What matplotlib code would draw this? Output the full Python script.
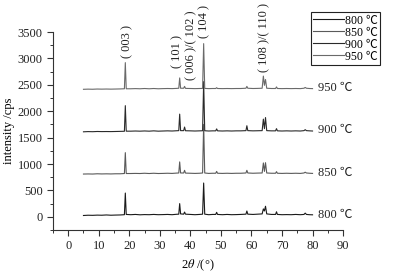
import matplotlib
matplotlib.use("Agg")
import matplotlib.pyplot as plt
from matplotlib.ticker import MultipleLocator

plt.rcParams['font.family'] = ['Liberation Serif', 'Noto Sans CJK SC']
plt.rcParams['mathtext.fontset'] = 'stix'

# 2theta sample points (deg)
two_theta = [5, 6.5, 8, 9.5, 11, 12.5, 14, 15.5, 17, 18.4, 18.7, 19.0, 20.5, 22, 23.5, 25,
             26.5, 28, 29.5, 31, 32.5, 34, 35.5, 36.2, 36.5, 36.8, 37.8, 38.1, 38.4, 40,
             41.5, 43, 44.0, 44.35, 44.7, 46, 47.3, 48.3, 48.6, 48.9, 50.5, 52, 53.5, 55,
             56.5, 58.2, 58.5, 58.8, 60.5, 62, 63.5, 63.9, 64.25, 64.6, 65.0, 66.5, 67.9,
             68.2, 68.5, 70, 71.5, 73, 74.5, 76, 77.2, 77.6, 78, 79, 80]

# intensities (cps) relative to each curve's vertical offset
i_800 = [25, 30, 28, 32, 30, 35, 30, 33, 35, 40, 450, 45, 40, 45, 38, 42, 40, 45, 40, 42,
         45, 40, 48, 50, 250, 55, 50, 90, 50, 45, 40, 45, 50, 640, 50, 40, 45, 45, 85, 45,
         40, 45, 40, 42, 45, 50, 110, 50, 45, 50, 55, 150, 110, 200, 55, 45, 45, 95, 45,
         40, 42, 40, 45, 40, 45, 70, 45, 40, 38]
i_850 = [10, 12, 10, 15, 12, 14, 12, 15, 15, 20, 415, 20, 20, 22, 20, 25, 20, 25, 20, 22,
         25, 22, 28, 30, 240, 30, 30, 80, 28, 25, 22, 25, 30, 950, 30, 22, 25, 25, 60, 25,
         22, 25, 22, 25, 25, 30, 80, 30, 25, 28, 30, 220, 60, 225, 30, 25, 25, 55, 25,
         22, 25, 22, 25, 22, 30, 45, 30, 25, 22]
i_900 = [10, 14, 12, 16, 14, 15, 14, 16, 18, 20, 505, 22, 22, 25, 22, 26, 22, 28, 22, 25,
         28, 25, 30, 32, 345, 32, 32, 100, 30, 28, 25, 28, 30, 960, 30, 25, 28, 28, 65, 28,
         25, 28, 25, 28, 28, 32, 125, 32, 28, 30, 32, 250, 70, 280, 32, 28, 28, 70, 28,
         25, 28, 25, 28, 25, 32, 50, 32, 28, 25]
i_950 = [15, 18, 16, 20, 18, 20, 18, 20, 22, 25, 520, 25, 25, 28, 25, 30, 25, 30, 25, 28,
         30, 28, 32, 35, 230, 35, 35, 70, 32, 30, 28, 30, 32, 880, 32, 28, 30, 30, 45, 30,
         28, 30, 28, 30, 30, 35, 70, 35, 30, 32, 35, 265, 90, 200, 35, 30, 30, 60, 30,
         28, 30, 28, 30, 28, 35, 50, 35, 30, 28]

series_labels = ['800 ℃', '850 ℃', '900 ℃', '950 ℃']
offsets = [0, 800, 1600, 2400]
colors = ['#1a1a1a', '#5a5a5a', '#2a2a2a', '#6a6a6a']

peak_labels = ['( 003 )', '( 101 )', '( 006 )/( 102 )', '( 104 )', '( 108 )/( 110 )']
peak_label_x = [19.2, 35.6, 40.3, 44.6, 64.1]
peak_label_y = [3000, 2810, 2590, 3380, 2740]

fig = plt.figure(figsize=(3.98, 2.75), dpi=100)
ax = fig.add_axes([0.133, 0.1636, 0.729, 0.72])

curves = [i_800, i_850, i_900, i_950]
for vals, off, col, lab in zip(curves, offsets, colors, series_labels):
    ax.plot(two_theta, [v + off for v in vals], color=col, lw=0.8, label=lab)
    ax.text(81.8, off + 40, lab, fontsize=9, va='center', ha='left', color='#222222')

for t, px, py in zip(peak_labels, peak_label_x, peak_label_y):
    ax.text(px, py, t, rotation=90, ha='center', va='bottom', fontsize=9, color='#222222')

ax.set_xlim(-5, 90)
ax.set_ylim(-250, 3500)
ax.xaxis.set_major_locator(MultipleLocator(10))
ax.xaxis.set_minor_locator(MultipleLocator(5))
ax.yaxis.set_major_locator(MultipleLocator(500))
ax.yaxis.set_minor_locator(MultipleLocator(250))
ax.set_xticks(range(0, 91, 10))
ax.set_yticks(range(0, 3501, 500))
for s in ['top', 'right']:
    ax.spines[s].set_visible(False)
for s in ['left', 'bottom']:
    ax.spines[s].set_linewidth(0.8)
    ax.spines[s].set_color('#333333')
ax.tick_params(which='major', direction='out', length=4, width=0.8, labelsize=9,
               colors='#333333', labelcolor='#222222')
ax.tick_params(which='minor', direction='out', length=2, width=0.7, colors='#333333')

ax.set_ylabel('intensity /cps', fontsize=9, labelpad=2)
ax.set_xlabel(r'2$\it{\theta}$ /(°)', fontsize=9, labelpad=4)

leg = ax.legend(loc='upper right', bbox_to_anchor=(1.128, 1.10), fontsize=8.5,
                frameon=True, fancybox=False, edgecolor='#222222', framealpha=1,
                labelspacing=0.0, handlelength=2.6, handletextpad=0.1, borderpad=0.2,
                borderaxespad=0)
leg.get_frame().set_linewidth(0.8)

fig.savefig('out.png', dpi=100)
